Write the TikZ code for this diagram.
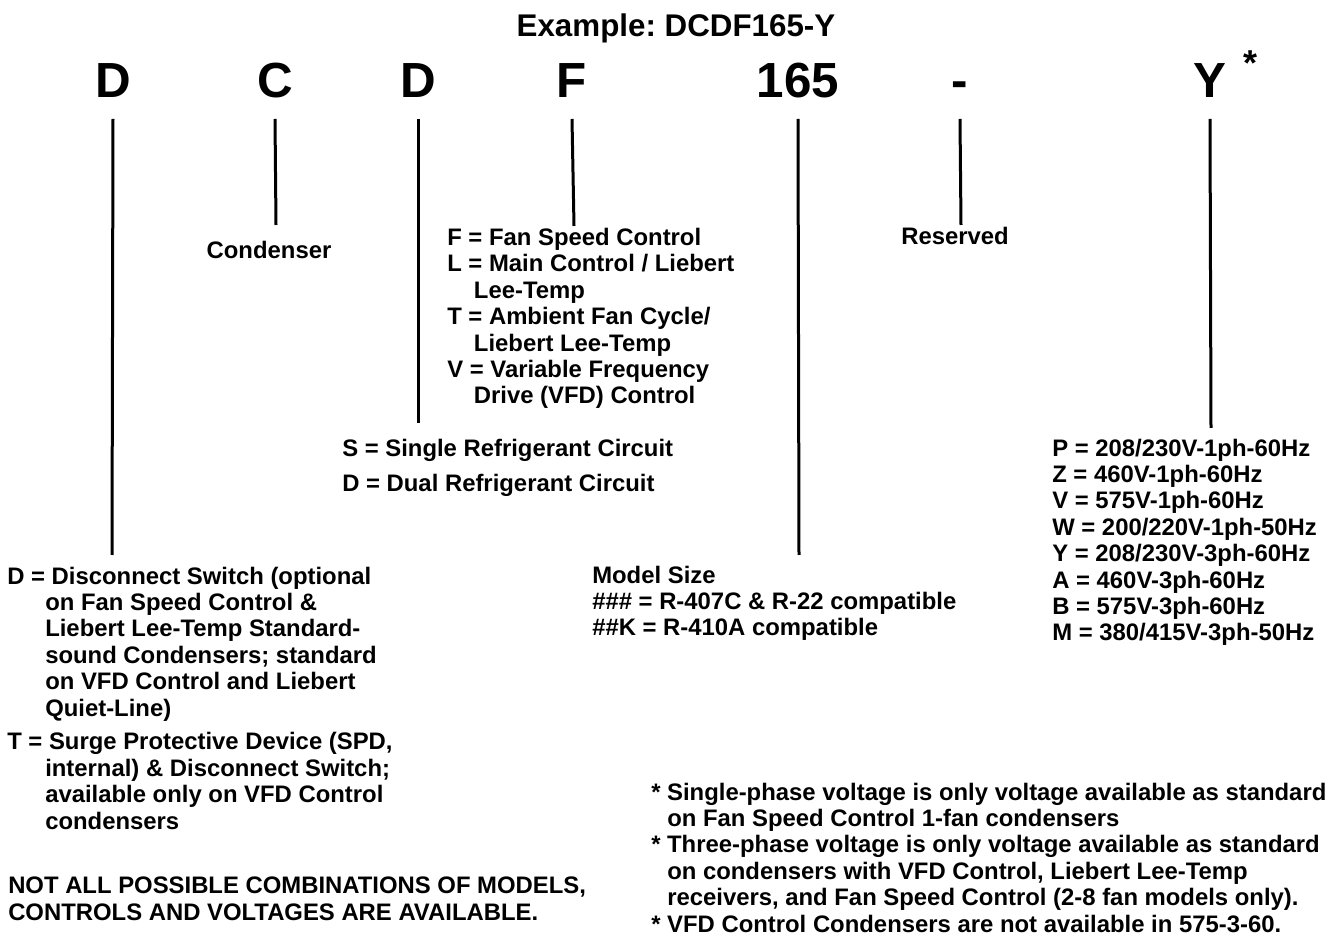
\documentclass[tikz,border=0pt]{standalone}
\usepackage{fontspec}
\setmainfont{Liberation Sans}
\usetikzlibrary{positioning}
\frenchspacing

\begin{document}
\begin{tikzpicture}[x=0.75pt, y=-0.75pt,
  code/.style={font=\fontsize{37}{40}\selectfont\bfseries, inner sep=0pt, anchor=base},
  lbl/.style={font=\fontsize{17.9}{19.8}\selectfont\bfseries, inner sep=0pt, align=left, anchor=base west},
  stem/.style={line width=2.25pt}]
  \useasboundingbox (0,0) rectangle (1329,937);
  \node[font=\fontsize{23.5}{26}\selectfont\bfseries, inner sep=0pt, anchor=base] (title) at (676,37) {Example: DCDF165-Y};
  % model code letters
  \node[code] (cD)    at (113,98)  {D};
  \node[code] (cC)    at (275,98)  {C};
  \node[code] (cCirc) at (418,98)  {D};
  \node[code] (cF)    at (572,98)  {F};
  \node[code] (cSize) at (798,98)  {165};
  \node[code] (cDash) at (960,98)  {-};
  \node[code] (cY)    at (1210,98) {Y};
  \node[font=\fontsize{27}{30}\selectfont\bfseries, inner sep=0pt] (star) at (1250,63) {*};
  % stem ends
  \coordinate (dEnd)    at (112,555);
  \coordinate (cEnd)    at (276,225);
  \coordinate (circEnd) at (418,423);
  \coordinate (fEnd)    at (574,226);
  \coordinate (sizeEnd) at (799,555);
  \coordinate (dashEnd) at (961,225);
  \coordinate (yEnd)    at (1211,428);
  \draw[stem] (cD.south |- 0,119)    -- (dEnd);
  \draw[stem] (cC.south |- 0,119)    -- (cEnd);
  \draw[stem] (cCirc.south |- 0,119) -- (circEnd);
  \draw[stem] (cF.south |- 0,119)    -- (fEnd);
  \draw[stem] (cSize.south |- 0,119) -- (sizeEnd);
  \draw[stem] (cDash.south |- 0,119) -- (dashEnd);
  \draw[stem] (cY.south |- 0,119)    -- (yEnd);
  % labels (multi-line nodes sit on their last baseline)
  \node[lbl, anchor=base] (condenser) at (269,259) {Condenser};
  \node[lbl, anchor=base] (reserved) at (955,245) {Reserved};
  \node[lbl] (fanCtrl) at (447,404) {F = Fan Speed Control\\
    L = Main Control / Liebert\\
    \hspace*{20pt}Lee-Temp\\
    T = Ambient Fan Cycle/\\
    \hspace*{20pt}Liebert Lee-Temp\\
    V = Variable Frequency\\
    \hspace*{20pt}Drive (VFD) Control};
  \node[lbl] (single) at (342,457) {S = Single Refrigerant Circuit};
  \node[lbl] (dual) at (342,492) {D = Dual Refrigerant Circuit};
  \node[lbl] (discon) at (7,716) {D = Disconnect Switch (optional\\
    \hspace*{28.5pt}on Fan Speed Control \&\\
    \hspace*{28.5pt}Liebert Lee-Temp Standard-\\
    \hspace*{28.5pt}sound Condensers; standard\\
    \hspace*{28.5pt}on VFD Control and Liebert\\
    \hspace*{28.5pt}Quiet-Line)};
  \node[lbl] (surge) at (7,829) {T = Surge Protective Device (SPD,\\
    \hspace*{28.5pt}internal) \& Disconnect Switch;\\
    \hspace*{28.5pt}available only on VFD Control\\
    \hspace*{28.5pt}condensers};
  \node[lbl] (notAll) at (8,920) {NOT ALL POSSIBLE COMBINATIONS OF MODELS,\\CONTROLS AND VOLTAGES ARE AVAILABLE.};
  \node[lbl] (modelSize) at (592,636) {Model Size\\
    \#\#\# = R-407C \& R-22 compatible\\
    \#\#K = R-410A compatible};
  \node[lbl] (volts) at (1052,641) {P = 208/230V-1ph-60Hz\\
    Z = 460V-1ph-60Hz\\
    V = 575V-1ph-60Hz\\
    W = 200/220V-1ph-50Hz\\
    Y = 208/230V-3ph-60Hz\\
    A = 460V-3ph-60Hz\\
    B = 575V-3ph-60Hz\\
    M = 380/415V-3ph-50Hz};
  \node[lbl] (notes) at (651,932) {* Single-phase voltage is only voltage available as standard\\
    \hspace*{12pt}on Fan Speed Control 1-fan condensers\\
    * Three-phase voltage is only voltage available as standard\\
    \hspace*{12pt}on condensers with VFD Control, Liebert Lee-Temp\\
    \hspace*{12pt}receivers, and Fan Speed Control (2-8 fan models only).\\
    * VFD Control Condensers are not available in 575-3-60.};
\end{tikzpicture}
\end{document}
